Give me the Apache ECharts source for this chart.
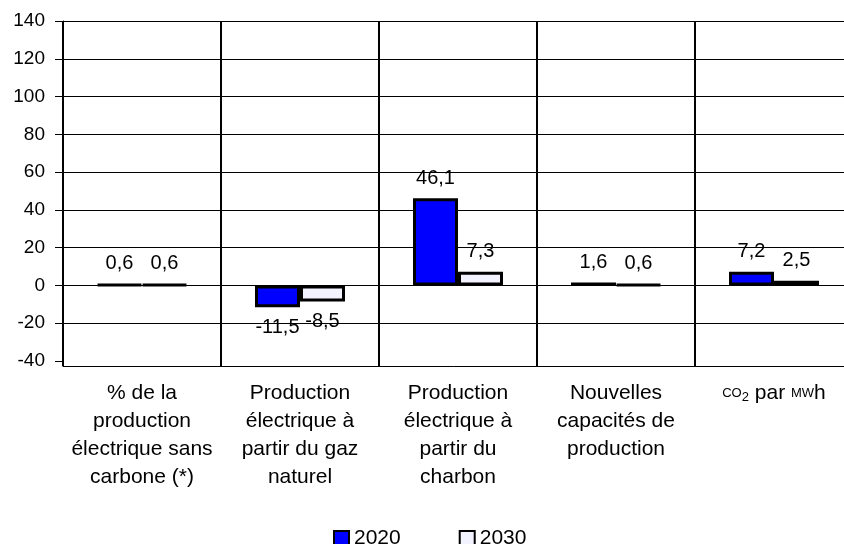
<!DOCTYPE html>
<html>
<head>
<meta charset="utf-8">
<style>
  html, body { margin: 0; padding: 0; background: #fff; }
  #chart { width: 844px; height: 544px; }
</style>
<script src="https://cdn.jsdelivr.net/npm/echarts@6/dist/echarts.min.js"></script>
</head>
<body>
<div id="chart"></div>
<script>
// Categories (x axis), one label per group
const categories = [
  '% de la\nproduction\nélectrique sans\ncarbone (*)',
  'Production\nélectrique à\npartir du gaz\nnaturel',
  'Production\nélectrique à\npartir du\ncharbon',
  'Nouvelles\ncapacités de\nproduction',
  'CO2 par MWh'
];

// Series values
const seriesNames = ['2020', '2030'];
const values2020 = [0.6, -11.5, 46.1, 1.6, 7.2];
const values2030 = [0.6, -8.5, 7.3, 0.6, 2.5];

// Value axis ticks
const yMin = -40;
const yMax = 140;
const yStep = 20;

const FONT = "'Liberation Sans', Arial, Helvetica, sans-serif";
const tickCount = Math.round((yMax - yMin) / yStep) + 1;
// no grid line at the very bottom: the category axis sits just below it
const gridColors = Array.from({ length: tickCount }, (_, i) => i === 0 ? 'rgba(0,0,0,0)' : '#000');

const fmt = v => String(v).replace('.', ',');

// value labels sit above positive bars and below negative ones
function barSeries(name, values, fill) {
  return {
    name: name,
    type: 'bar',
    data: values.map(v => ({ value: v, label: { position: v < 0 ? 'bottom' : 'top' } })),
    barWidth: 45,
    barGap: '0%',
    itemStyle: { color: fill, borderColor: '#000', borderWidth: 3 },
    label: {
      show: true,
      distance: 10,
      color: '#000',
      fontFamily: FONT,
      fontSize: 20,
      formatter: p => fmt(p.value)
    }
  };
}

const chart = echarts.init(document.getElementById('chart'), null, { renderer: 'canvas' });

chart.setOption({
  animation: false,
  backgroundColor: '#fff',
  textStyle: { fontFamily: FONT },
  // the plot runs past the right edge of the canvas
  grid: { left: 63, top: 21, width: 790, height: 340, containLabel: false, outerBoundsMode: 'none' },
  legend: {
    data: seriesNames,
    left: 328,
    top: 523,
    icon: 'rect',
    itemWidth: 15,
    itemHeight: 15,
    itemGap: 58,
    itemStyle: { borderColor: '#000', borderWidth: 2 },
    textStyle: { fontFamily: FONT, fontSize: 21, color: '#000' }
  },
  xAxis: {
    type: 'category',
    data: categories,
    position: 'bottom',
    offset: 5,
    axisLine: { onZero: false, lineStyle: { color: '#000', width: 1 } },
    axisTick: { show: true, inside: true, length: 7, lineStyle: { color: '#000', width: 2 } },
    splitLine: { show: true, interval: 0, lineStyle: { color: '#000', width: 2 } },
    axisLabel: {
      interval: 0,
      margin: 13,
      color: '#000',
      fontFamily: FONT,
      fontSize: 21,
      lineHeight: 28,
      // small capitals for the units, subscript 2 in CO2
      formatter: v => v === 'CO2 par MWh' ? '{sc|CO}{sub|2} par {sc|MW}h' : v,
      rich: {
        sc: { fontFamily: FONT, fontSize: 13, lineHeight: 28, color: '#000' },
        sub: { fontFamily: FONT, fontSize: 13, lineHeight: 28, color: '#000', padding: [9, 0, 0, 0] }
      }
    }
  },
  yAxis: {
    type: 'value',
    min: yMin,
    max: yMax,
    interval: yStep,
    axisLine: { show: true, lineStyle: { color: '#000', width: 1 } },
    axisTick: { show: true, length: 8, lineStyle: { color: '#000', width: 1 } },
    splitLine: { show: true, lineStyle: { color: gridColors, width: 1 } },
    axisLabel: { margin: 18, color: '#000', fontFamily: FONT, fontSize: 19 }
  },
  series: [
    barSeries(seriesNames[0], values2020, '#0000ff'),
    barSeries(seriesNames[1], values2030, '#f3f3ff')
  ]
});
</script>
</body>
</html>
